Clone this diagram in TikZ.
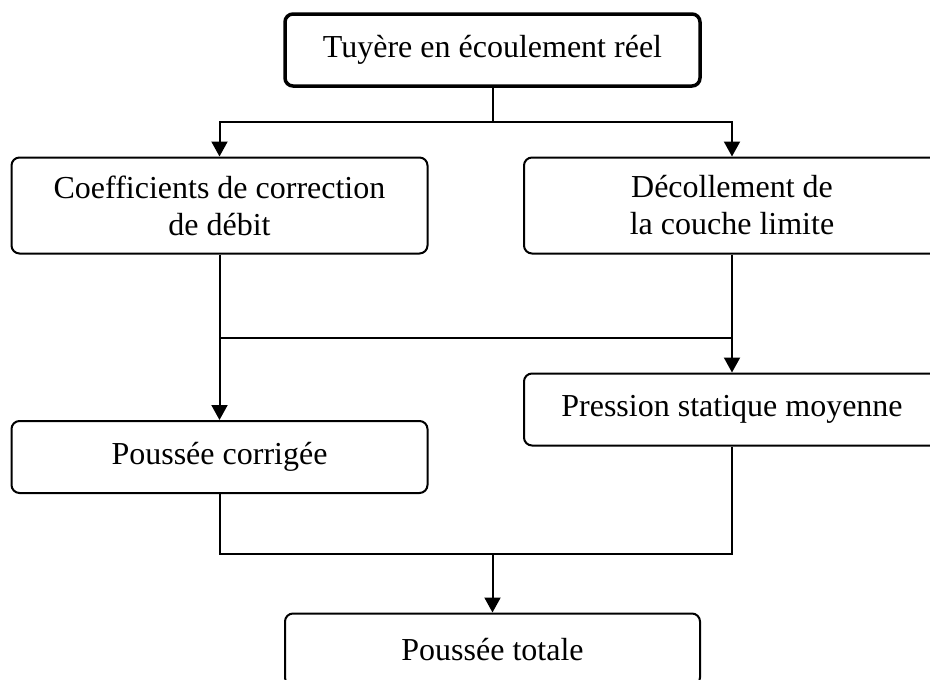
\documentclass[tikz,border=0pt]{standalone}
\usepackage{fontspec}
\setmainfont{Liberation Serif}
\usetikzlibrary{arrows.meta}
\begin{document}
\begin{tikzpicture}[x=1pt,y=-1pt,
  box/.style={draw, rounded corners=8pt, line width=2pt, inner sep=0pt,
    align=center, font=\fontsize{32}{37}\selectfont},
  conn/.style={line width=2pt},
  arr/.style={conn, -{Triangle[length=15pt,width=16pt]}}]
\clip (0,0) rectangle (930,680);
\node[box, line width=3.5pt, minimum width=415pt, minimum height=72pt] (top) at (492.5,50) {Tuyère en écoulement réel};
\node[box, minimum width=416pt, minimum height=96pt] (coef) at (219.5,205.5) {Coefficients de correction\\de débit};
\node[box, minimum width=416pt, minimum height=96pt] (decol) at (732,205.5) {Décollement de\\la couche limite};
\node[box, minimum width=416pt, minimum height=72pt] (pcor) at (219.5,457) {Poussée corrigée};
\node[box, minimum width=416pt, minimum height=72pt] (pstat) at (732,409.5) {Pression statique moyenne};
\node[box, minimum width=415pt, minimum height=72pt] (ptot) at (492.5,649.5) {Poussée totale};
\coordinate (j1) at (492.5,122);
\coordinate (j2) at (219.5,337.5);
\coordinate (j3) at (492.5,554);
\draw[conn] (top.south) -- (j1);
\draw[arr] (j1) -| (coef.north);
\draw[arr] (j1) -| (decol.north);
\draw[arr] (coef.south) -- (pcor.north);
\draw[arr] (decol.south) -- (pstat.north);
\draw[conn] (j2) -- (j2 -| decol.south);
\draw[conn] (pcor.south) |- (j3);
\draw[conn] (pstat.south) |- (j3);
\draw[arr] (j3) -- (ptot.north);
\end{tikzpicture}
\end{document}
